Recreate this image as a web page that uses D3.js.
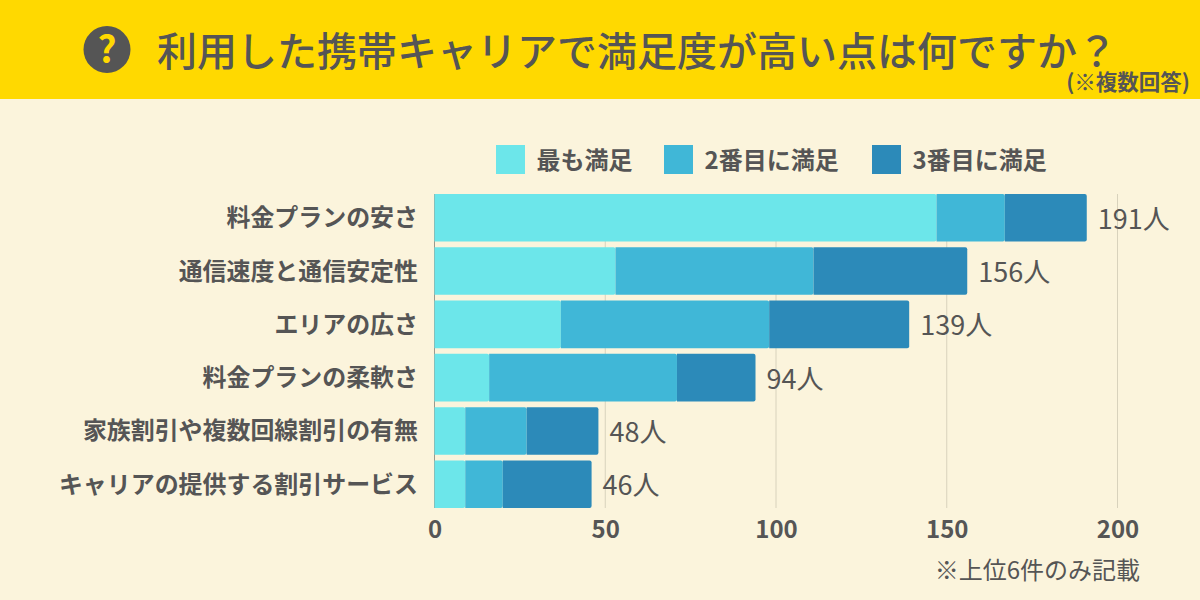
<!DOCTYPE html>
<html>
<head>
<meta charset="utf-8">
<script src="https://cdn.jsdelivr.net/npm/d3@7"></script>
<style>
  html, body { margin: 0; padding: 0; background: #fbf4dc; }
  text { font-family: "Noto Sans CJK JP", "Noto Sans", sans-serif; fill: #555; }
</style>
</head>
<body>
<svg id="chart"></svg>
<script>
const categories = ["料金プランの安さ", "通信速度と通信安定性", "エリアの広さ", "料金プランの柔軟さ", "家族割引や複数回線割引の有無", "キャリアの提供する割引サービス"];
const seriesNames = ["最も満足", "2番目に満足", "3番目に満足"];
const first = [147, 53, 37, 16, 9, 9];
const second = [20, 58, 61, 55, 18, 11];
const third = [24, 45, 41, 23, 21, 26];
const totals = [191, 156, 139, 94, 48, 46];
const tickValues = [0, 50, 100, 150, 200];
const colors = ["#6ce6ea", "#40b7d7", "#2c8ab9"];

const w = 1200;
const h = 600;

const svg = d3.select("#chart")
    .attr("width", w)
    .attr("height", h)
    .style("display", "block");

svg.append("rect").attr("width", w).attr("height", h).attr("fill", "#fbf4dc");
svg.append("rect").attr("width", w).attr("height", 99).attr("fill", "#ffd900");

// header
svg.append("circle").attr("cx", 107).attr("cy", 49.5).attr("r", 23.5).attr("fill", "#555");
svg.append("text")
    .attr("x", 107).attr("y", 62.5)
    .attr("text-anchor", "middle")
    .style("font-size", "37px").style("font-weight", 700).style("fill", "#ffd900")
    .text("?");
svg.append("text")
    .attr("x", 157).attr("y", 66)
    .style("font-size", "40px").style("font-weight", 500)
    .text("利用した携帯キャリアで満足度が高い点は何ですか？");
svg.append("text")
    .attr("x", 1190).attr("y", 90)
    .attr("text-anchor", "end")
    .style("font-size", "21.5px").style("font-weight", 700)
    .text("(※複数回答)");

// scales
const xScale = d3.scaleLinear().domain([0, 200]).range([434.5, 1117.5]);
const yScale = d3.scaleBand().domain(categories).range([194, 508]).paddingInner(0.107).paddingOuter(0);

const rows = categories.map((c, i) => ({ category: c, a: first[i], b: second[i], c: third[i] }));
const series = d3.stack().keys(["a", "b", "c"])(rows);

// grid
svg.append("g")
    .selectAll("line")
    .data(tickValues)
    .join("line")
    .attr("x1", d => xScale(d)).attr("x2", d => xScale(d))
    .attr("y1", 194).attr("y2", 508)
    .attr("stroke", d => d === 0 ? "#9a9a8e" : "#d8d2bc")
    .attr("stroke-width", 1);

// bars, last one has slightly rounded right end
const barPath = d => {
    const x0 = xScale(d[0]), x1 = xScale(d[1]);
    const y0 = yScale(d.data.category), y1 = y0 + yScale.bandwidth();
    const r = 2;
    return `M${x0},${y0}H${x1 - r}Q${x1},${y0} ${x1},${y0 + r}V${y1 - r}Q${x1},${y1} ${x1 - r},${y1}H${x0}Z`;
};

svg.append("g")
    .selectAll("g")
    .data(series)
    .join("g")
    .attr("fill", (d, i) => colors[i])
    .selectAll("path")
    .data(d => d)
    .join("path")
    .attr("d", barPath);

// category labels
svg.append("g")
    .selectAll("text")
    .data(categories)
    .join("text")
    .attr("x", 418)
    .attr("y", d => yScale(d) + yScale.bandwidth() / 2 + 8.5)
    .attr("text-anchor", "end")
    .style("font-size", "23.95px").style("font-weight", 700)
    .text(d => d);

// totals
svg.append("g")
    .selectAll("text")
    .data(totals)
    .join("text")
    .attr("x", d => xScale(d) + 11)
    .attr("y", (d, i) => yScale(categories[i]) + yScale.bandwidth() / 2 + 11)
    .style("font-size", "27px").style("font-weight", 400)
    .text(d => d + "人");

// x axis
const xAxis = d3.axisBottom(xScale).tickValues(tickValues).tickSize(0).tickPadding(0);
const axisG = svg.append("g").attr("transform", "translate(0,512)").call(xAxis);
axisG.select(".domain").remove();
axisG.selectAll("text")
    .attr("y", 0).attr("dy", "26px")
    .style("font-family", '"Noto Sans CJK JP", sans-serif')
    .style("font-size", "24px").style("font-weight", 700).style("fill", "#555");

// legend
const legendX = [496, 664, 872];
const legend = svg.append("g")
    .selectAll("g")
    .data(seriesNames)
    .join("g")
    .attr("transform", (d, i) => `translate(${legendX[i]},145)`);
legend.append("rect").attr("width", 29).attr("height", 29).attr("fill", (d, i) => colors[i]);
legend.append("text")
    .attr("x", 40.5).attr("y", 24)
    .style("font-size", "24px").style("font-weight", 700)
    .text(d => d);

// footnote
svg.append("text")
    .attr("x", 1140).attr("y", 579)
    .attr("text-anchor", "end")
    .style("font-size", "24px").style("font-weight", 400)
    .text("※上位6件のみ記載");
</script>
</body>
</html>
